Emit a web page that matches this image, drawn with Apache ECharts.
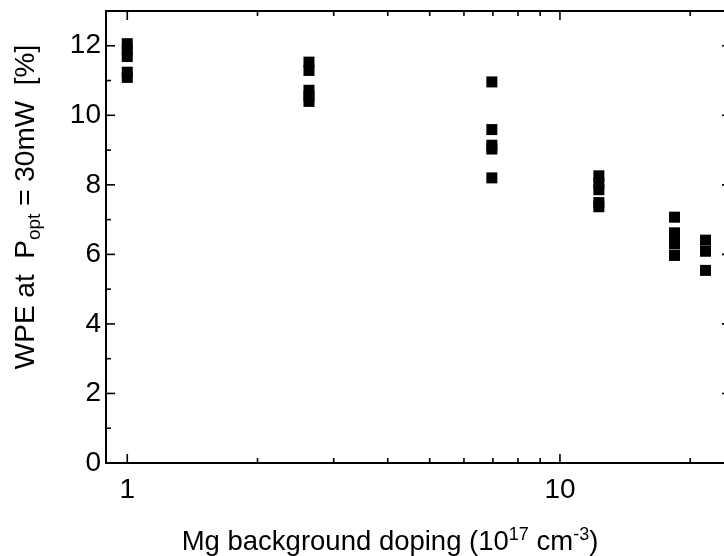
<!DOCTYPE html>
<html><head><meta charset="utf-8">
<script src="https://cdn.jsdelivr.net/npm/echarts@6/dist/echarts.min.js"></script>
<style>html,body{margin:0;padding:0;background:#fff}#c{width:724px;height:556px}</style>
</head><body><div id="c"></div>
<script>
// ---- data ----
const dopingLevels = [1.0, 2.63, 6.96, 12.3, 18.4, 21.7];
const wpeAt1 = [12.06, 11.88, 11.69, 11.24, 11.09];
const wpeAt2p6 = [11.53, 11.29, 10.72, 10.55, 10.40];
const wpeAt7 = [10.96, 9.59, 9.14, 9.03, 8.20];
const wpeAt12 = [8.26, 8.05, 7.86, 7.49, 7.37];
const wpeAt18 = [7.07, 6.62, 6.45, 6.30, 5.97];
const wpeAt22 = [6.41, 6.09, 5.54];
const xMajorTicks = [1, 10];
const xMinorTicks = [2, 3, 4, 5, 6, 7, 8, 9, 20];
const xTickLabels = ['1', '10'];
const yMajorTicks = [0, 2, 4, 6, 8, 10, 12];
const yMinorTicks = [1, 3, 5, 7, 9, 11];
const X_MIN = 0.893, X_MAX = 24.85, Y_MIN = 0, Y_MAX = 13;

const FONT = '"Liberation Sans", Arial, sans-serif';
const groups = [wpeAt1, wpeAt2p6, wpeAt7, wpeAt12, wpeAt18, wpeAt22];
const points = [];
groups.forEach((g, i) => g.forEach(v => points.push([dopingLevels[i], v])));

function xTickSeries(vals, len, labels) {
  return {
    type: 'custom', xAxisIndex: 0, yAxisIndex: 0, clip: false, silent: true,
    data: vals.map(v => [v, Y_MIN]),
    encode: { x: 0, y: 1 },
    renderItem: (params, api) => {
      const cs = params.coordSys;
      const p = api.coord([api.value(0), Y_MIN]);
      const bottom = cs.y + cs.height, top = cs.y;
      const children = [
        { type: 'line', shape: { x1: p[0], y1: bottom, x2: p[0], y2: bottom - len }, style: { stroke: '#000', lineWidth: 1.6 } },
        { type: 'line', shape: { x1: p[0], y1: top, x2: p[0], y2: top + len }, style: { stroke: '#000', lineWidth: 1.6 } }
      ];
      if (labels) {
        children.push({ type: 'text', style: { text: labels[params.dataIndex], x: p[0], y: bottom + 13, fill: '#000', fontSize: 28, fontFamily: FONT, align: 'center', verticalAlign: 'top' } });
      }
      return { type: 'group', children };
    }
  };
}
function yTickSeries(vals, len) {
  return {
    type: 'custom', xAxisIndex: 0, yAxisIndex: 0, clip: false, silent: true,
    data: vals.map(v => [X_MIN, v]),
    encode: { x: 0, y: 1 },
    renderItem: (params, api) => {
      const cs = params.coordSys;
      const p = api.coord([X_MIN, api.value(1)]);
      const left = cs.x, right = cs.x + cs.width;
      return { type: 'group', children: [
        { type: 'line', shape: { x1: left, y1: p[1], x2: left + len, y2: p[1] }, style: { stroke: '#000', lineWidth: 1.6 } },
        { type: 'line', shape: { x1: right, y1: p[1], x2: right - len, y2: p[1] }, style: { stroke: '#000', lineWidth: 1.6 } }
      ]};
    }
  };
}

const chart = echarts.init(document.getElementById('c'), null, { renderer: 'canvas' });
const axisLine = { show: true, onZero: false, lineStyle: { color: '#000', width: 2 } };
chart.setOption({
  animation: false,
  backgroundColor: '#fff',
  grid: { left: 106, top: 11, width: 625, height: 452, outerBoundsMode: 'none', containLabel: false },
  xAxis: [
    { type: 'log', min: X_MIN, max: X_MAX, position: 'bottom', axisLine, axisTick: { show: false }, axisLabel: { show: false }, splitLine: { show: false }, minorTick: { show: false }, minorSplitLine: { show: false } },
    { type: 'log', min: X_MIN, max: X_MAX, position: 'top', axisLine, axisTick: { show: false }, axisLabel: { show: false }, splitLine: { show: false } }
  ],
  yAxis: [
    { type: 'value', min: Y_MIN, max: Y_MAX, interval: 1, position: 'left', axisLine, axisTick: { show: false }, splitLine: { show: false },
      axisLabel: { show: true, margin: 5, color: '#000', fontSize: 28, fontFamily: FONT, showMaxLabel: false,
        formatter: v => (yMajorTicks.indexOf(v) >= 0 ? String(v) : '') } },
    { type: 'value', min: Y_MIN, max: Y_MAX, interval: 1, position: 'right', axisLine, axisTick: { show: false }, axisLabel: { show: false }, splitLine: { show: false } }
  ],
  series: [
    { type: 'scatter', xAxisIndex: 0, yAxisIndex: 0, symbol: 'rect', symbolSize: 11, itemStyle: { color: '#000', opacity: 1 }, data: points, z: 5 },
    xTickSeries(xMajorTicks, 9, xTickLabels),
    xTickSeries(xMinorTicks, 5, null),
    yTickSeries(yMajorTicks, 9),
    yTickSeries(yMinorTicks, 5)
  ],
  graphic: [
    { type: 'text', x: 390, y: 541, silent: true,
      style: { text: '{a|Mg background doping (10}{s|17}{a| cm}{s|-3}{a|)}', align: 'center', verticalAlign: 'middle',
        rich: { a: { fontSize: 27.5, fontFamily: FONT, fill: '#000', color: '#000', lineHeight: 30, verticalAlign: 'bottom' },
                s: { fontSize: 18, fontFamily: FONT, fill: '#000', color: '#000', lineHeight: 18, verticalAlign: 'top' } } } },
    { type: 'text', x: 28, y: 207, rotation: Math.PI / 2, silent: true,
      style: { text: '{a|WPE at  P}{b|opt}{a| = 30mW  [%]}', align: 'center', verticalAlign: 'middle',
        rich: { a: { fontSize: 28, fontFamily: FONT, fill: '#000', color: '#000', lineHeight: 32, verticalAlign: 'top' },
                b: { fontSize: 19, fontFamily: FONT, fill: '#000', color: '#000', lineHeight: 19, verticalAlign: 'bottom' } } } }
  ]
});
</script>
</body></html>
